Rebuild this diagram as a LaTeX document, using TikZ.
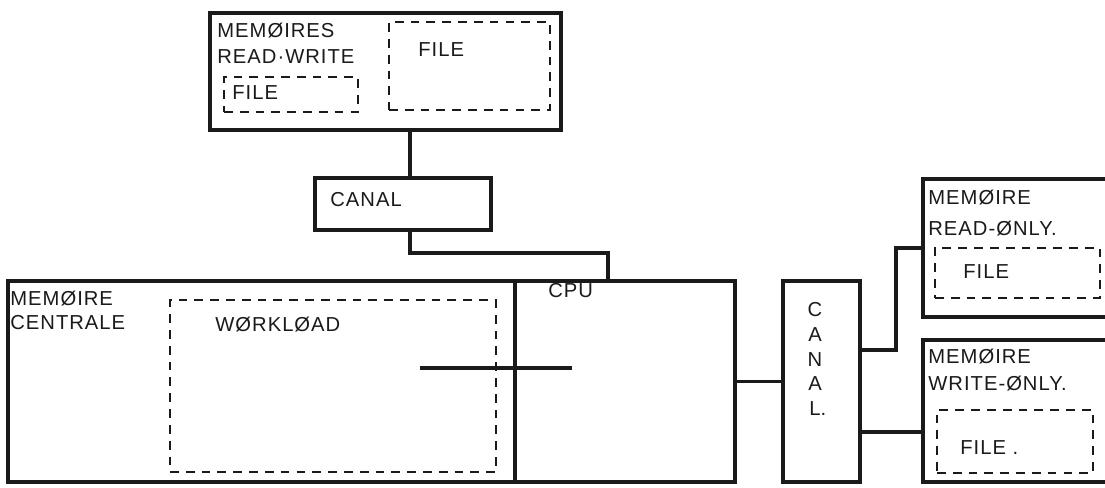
\documentclass[tikz,border=0pt]{standalone}
\usepackage{fontspec}
\newfontfamily\hand[LetterSpace=5]{Liberation Sans}
\definecolor{ink}{HTML}{1A1A1A}
\definecolor{paper}{HTML}{FFFFFF}
\tikzset{
  box/.style={draw=ink,line width=2pt,anchor=north west,inner sep=0pt,outer sep=0pt},
  filebox/.style={box,line width=1.4pt,dash pattern=on 5pt off 4pt},
  wire/.style={draw=ink,line width=2pt},
  lab/.style={font={\hand\fontsize{11.5}{15}\selectfont},text=ink,inner sep=0pt,anchor=west,align=left}
}

\begin{document}
\begin{tikzpicture}[x=0.02cm,y=-0.02cm]
\useasboundingbox (0,0) rectangle (1105,487);
\fill[paper] (0,0) rectangle (1105,487);
\clip (0,0) rectangle (1105,487);
% read-write store and its channel
\node[box,minimum width=7.02cm,minimum height=2.34cm] (rw) at (210,13) {};
\node[filebox,minimum width=2.68cm,minimum height=0.70cm] (rwfa) at (224,77) {};
\node[filebox,minimum width=3.22cm,minimum height=1.76cm] (rwfb) at (389,22) {};
\node[lab] (rwtxt) at (217,43.5) {MEMØIRES\\READ·WRITE};
\node[lab] (rwfatxt) at (232,93) {FILE};
\node[lab] (rwfbtxt) at (418,50) {FILE};
\node[box,minimum width=3.52cm,minimum height=1.04cm] (canala) at (315,178) {};
\node[lab] (canalatxt) at (330,200) {CANAL};
% central memory and cpu
\node[box,minimum width=10.14cm,minimum height=4.02cm] (central) at (8,281) {};
\node[box,minimum width=4.40cm,minimum height=4.02cm] (cpu) at (515,281) {};
\node[filebox,minimum width=6.52cm,minimum height=3.44cm] (wl) at (170,300) {};
\node[lab] (centraltxt) at (10,310) {MEMØIRE\\[-1.4pt]CENTRALE};
\node[lab] (wltxt) at (215,325) {WØRKLØAD};
\node[lab] (cputxt) at (548,291) {CPU};
% second channel
\node[box,minimum width=1.54cm,minimum height=4.02cm] (canalb) at (783,281) {};
\node[lab,anchor=center,align=center] (canalbtxt) at (815,359) {C\\[-1pt]A\\[-1pt]N\\[-1pt]A\\[-1pt]L\rlap{.}};
% read-only and write-only stores
\node[box,minimum width=4.40cm,minimum height=2.76cm] (ro) at (923,179) {};
\node[filebox,minimum width=3.30cm,minimum height=1.00cm] (rof) at (935,248) {};
\node[lab] (rotxt) at (928,213) {MEMØIRE\\[3pt]READ-ØNLY.};
\node[lab] (roftxt) at (963,272) {FILE};
\node[box,minimum width=4.40cm,minimum height=2.84cm] (wo) at (923,340) {};
\node[filebox,minimum width=3.12cm,minimum height=1.26cm] (wof) at (937,410) {};
\node[lab] (wotxt) at (928,370) {MEMØIRE\\WRITE-ØNLY.};
\node[lab] (woftxt) at (960,448) {FILE .};
% links
\coordinate (ka) at (410,150);
\coordinate (kb) at (608,253);
\coordinate (kc) at (896,350);
\coordinate (kd) at (890,432);
\coordinate (busw) at (420,368);
\coordinate (buse) at (572,368);
\draw[wire] (rw.south -| ka) -- (canala.north -| ka);
\draw[wire] (canala.south -| ka) |- (kb) -- (kb |- cpu.north);
\draw[wire] (busw) -- (buse);
\draw[wire] (cpu.east) -- (canalb.west);
\draw[wire] (canalb.east |- kc) -- (kc) |- (ro.west);
\draw[wire] (canalb.east |- kd) -- (wo.west |- kd);
\end{tikzpicture}
\end{document}
